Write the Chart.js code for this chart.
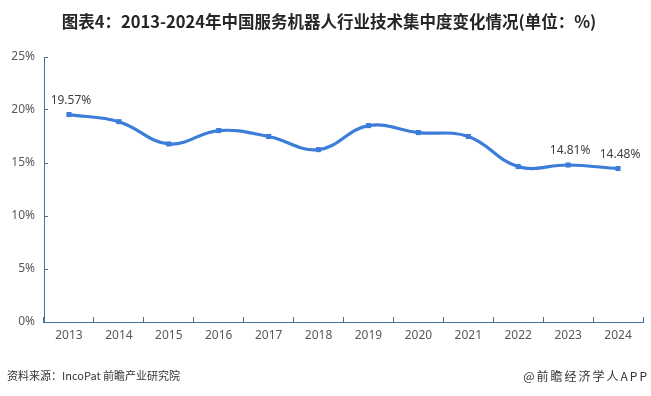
<!DOCTYPE html>
<html>
<head>
<meta charset="utf-8">
<script src="https://cdn.jsdelivr.net/npm/chart.js@4"></script>
<style>
  html, body { margin: 0; padding: 0; background: #fff; }
  #wrap { position: relative; width: 651px; height: 396px; }
</style>
</head>
<body>
<div id="wrap"><canvas id="c" width="651" height="396"></canvas></div>
<script>
// data
var years = ['2013', '2014', '2015', '2016', '2017', '2018', '2019', '2020', '2021', '2022', '2023', '2024'];
var shares = [19.57, 18.9, 16.8, 18.06, 17.5, 16.26, 18.53, 17.87, 17.5, 14.66, 14.81, 14.48];
var labelled = ['2013', '2023', '2024'];
var yTicks = [0, 5, 10, 15, 20, 25];

var titleText = '图表4：2013-2024年中国服务机器人行业技术集中度变化情况(单位：%)';
var sourceText = '资料来源：IncoPat 前瞻产业研究院';
var brandText = '@前瞻经济学人APP';

var axisColor = '#44709a';
var lineColor = '#3b7dd8';
var textColor = '#595959';

// title, footer and value labels
var extras = {
    id: 'extras',
    afterDraw: function (chart) {
        var ctx = chart.ctx;
        ctx.save();
        ctx.fillStyle = '#262626';
        ctx.font = 'bold 16.5px "Noto Sans CJK SC", sans-serif';
        ctx.textAlign = 'center';
        ctx.textBaseline = 'middle';
        ctx.fillText(titleText, 329, 22);

        ctx.font = '11px "Noto Sans CJK SC", sans-serif';
        ctx.fillStyle = '#333';
        ctx.textAlign = 'left';
        ctx.fillText(sourceText, 7, 376);
        ctx.font = '12px "Noto Sans CJK SC", sans-serif';
        ctx.letterSpacing = '2px';
        ctx.textAlign = 'right';
        ctx.fillText(brandText, 649, 376);
        ctx.letterSpacing = '0px';

        var meta = chart.getDatasetMeta(0);
        ctx.font = '12px "Noto Sans", sans-serif';
        ctx.fillStyle = '#404040';
        ctx.textAlign = 'center';
        ctx.textBaseline = 'bottom';
        meta.data.forEach(function (pt, i) {
            if (labelled.indexOf(years[i]) < 0) return;
            ctx.fillText(shares[i].toFixed(2) + '%', pt.x + 2, pt.y - 8);
        });
        ctx.restore();
    }
};

new Chart(document.getElementById('c').getContext('2d'), {
    type: 'line',
    data: {
        labels: years,
        datasets: [{
            data: shares,
            borderColor: lineColor,
            backgroundColor: lineColor,
            borderWidth: 3.2,
            tension: 0.4,
            pointStyle: 'rect',
            pointRadius: 3.6,
            pointBorderWidth: 0,
            pointBackgroundColor: lineColor
        }]
    },
    options: {
        responsive: false,
        animation: false,
        layout: { padding: { top: 57, right: 8, left: 0, bottom: 44 } },
        plugins: {
            legend: { display: false },
            tooltip: { enabled: false }
        },
        scales: {
            x: {
                offset: true,
                // ticks point inward, as in the source
                grid: { offset: true, drawOnChartArea: false, color: axisColor, tickLength: -5 },
                border: { color: axisColor, width: 1 },
                ticks: { color: textColor, font: { size: 12, family: '"Noto Sans", sans-serif' }, padding: 11, maxRotation: 0 },
                afterFit: function (s) { s.height = 30; }
            },
            y: {
                min: 0,
                max: 25,
                afterBuildTicks: function (s) { s.ticks = yTicks.map(function (v) { return { value: v }; }); },
                grid: { drawOnChartArea: false, color: axisColor, tickLength: -4 },
                border: { color: axisColor, width: 1 },
                ticks: {
                    color: textColor,
                    font: { size: 12, family: '"Noto Sans", sans-serif' },
                    padding: 13,
                    callback: function (v) { return v + '%'; }
                },
                afterFit: function (s) { s.width = 44; }
            }
        }
    },
    plugins: [extras]
});
</script>
</body>
</html>
